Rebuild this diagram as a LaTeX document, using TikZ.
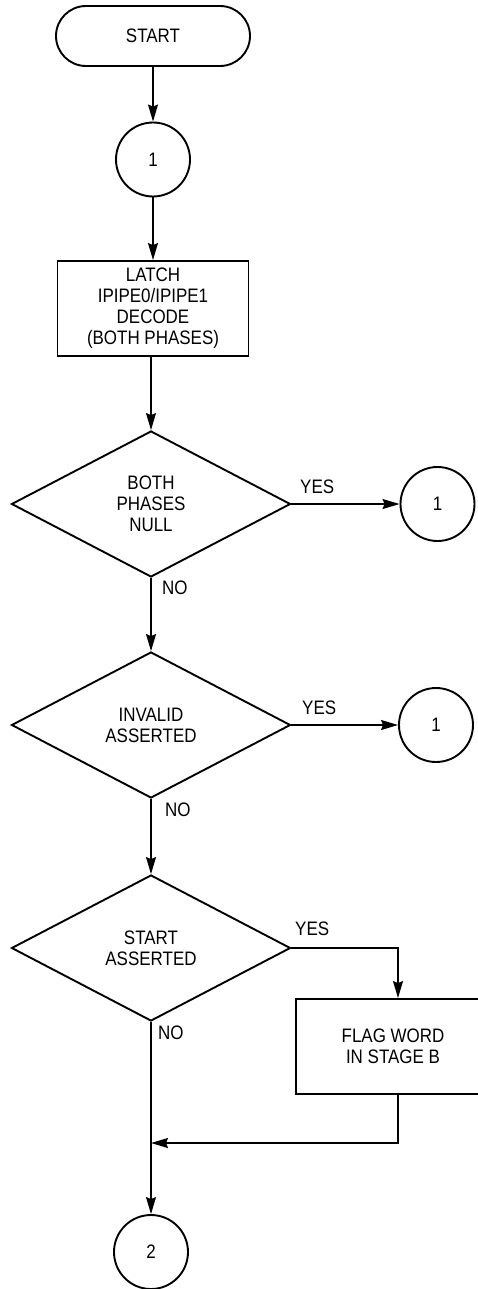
\documentclass[tikz,border=0pt]{standalone}
\usepackage{fontspec}
\setmainfont[FakeStretch=0.87]{Liberation Sans}
\usetikzlibrary{shapes.geometric,arrows.meta}
\begin{document}
\begin{tikzpicture}[x=1pt,y=-1pt,
  txt/.style={font=\fontsize{19.5}{21}\selectfont},
  base/.style={draw, line width=1.9pt, txt, align=center, inner sep=0pt},
  term/.style={base, rectangle, rounded corners=30pt, minimum width=194pt, minimum height=60pt},
  conn/.style={base, circle, minimum size=74pt},
  proc/.style={base, rectangle},
  dec/.style={base, diamond, aspect=1.91, minimum width=279pt, minimum height=146pt},
  flow/.style={line width=1.4pt, -{Stealth[length=17pt,width=10pt,inset=2pt]}},
  lbl/.style={txt, inner sep=0pt, anchor=west}]
\useasboundingbox (0,0) rectangle (478,1289);
\clip (0,0) rectangle (478,1289);

\node[term] (start) at (153,36) {START};
\node[conn] (c1) at (153,159.5) {1};
\node[proc, minimum width=191pt, minimum height=95pt] (latch) at (153,308.5) {LATCH\\IPIPE0/IPIPE1\\DECODE\\(BOTH PHASES)};
\node[dec] (d1) at (151,504) {BOTH\\PHASES\\NULL};
\node[conn] (r1) at (437.5,504) {1};
\node[dec] (d2) at (151,725) {INVALID\\ASSERTED};
\node[conn] (r2) at (436,725) {1};
\node[dec] (d3) at (151,948) {START\\ASSERTED};
\node[proc, minimum width=194pt, minimum height=95pt] (flag) at (393,1046.5) {FLAG WORD\\IN STAGE B};
\node[conn] (c2) at (151,1252) {2};
\coordinate (m) at (151,1143);
\coordinate (fx) at ([xshift=5pt]flag.north);
\coordinate (fb) at ([xshift=5pt]flag.south);

\draw[flow] (start) -- (c1);
\draw[flow] (c1) -- (latch);
\draw[flow] (latch.south -| d1.north) -- (d1.north);
\draw[flow] (d1.east) -- (r1.west);
\draw[flow] (d1.south) -- (d2.north);
\draw[flow] (d2.east) -- (r2.west);
\draw[flow] (d2.south) -- (d3.north);
\draw[flow] (d3.east) -| (fx);
\draw[flow] (d3.south) -- (c2.north);
\draw[flow] (fb) |- (m);

\node[lbl] (y1) at (300,487) {YES};
\node[lbl] (n1) at (162,588) {NO};
\node[lbl] (y2) at (302,708) {YES};
\node[lbl] (n2) at (165,810) {NO};
\node[lbl] (y3) at (295,929) {YES};
\node[lbl] (n3) at (158,1033) {NO};
\end{tikzpicture}
\end{document}
